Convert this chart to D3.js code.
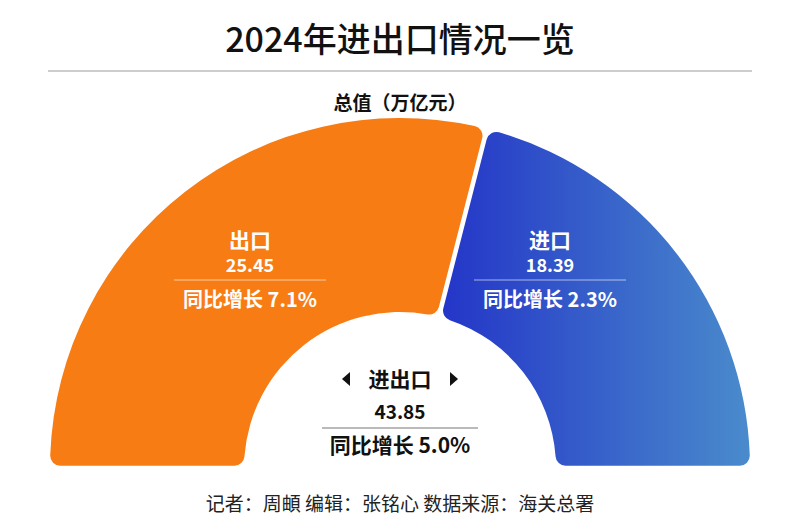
<!DOCTYPE html>
<html><head><meta charset="utf-8">
<script src="https://cdn.jsdelivr.net/npm/d3@7"></script>
<style>body{margin:0;background:#fff}svg{font-family:"Noto Sans CJK SC",sans-serif}</style>
</head><body><svg id="c" width="800" height="531"></svg>
<script>
const names = ["出口", "进口"];
const values = [25.45, 18.39];
const growth = ["7.1%", "2.3%"];
const total = 43.85, totalGrowth = "5.0%";

const svg = d3.select("#c");
const cx = 400, cy = 468, rOut = 350, rIn = 156;

svg.append("text").attr("x", 400).attr("y", 52).attr("text-anchor", "middle")
  .attr("font-size", 34).attr("font-weight", 500).attr("fill", "#111").text("2024年进出口情况一览");
svg.append("line").attr("x1", 48).attr("x2", 752).attr("y1", 71).attr("y2", 71).attr("stroke", "#999");
svg.append("text").attr("x", 400).attr("y", 110).attr("text-anchor", "middle")
  .attr("font-size", 19).attr("font-weight", 700).attr("fill", "#111").text("总值（万亿元）");

// gradient coords are in the translated group's space
const defs = svg.append("defs");
const g = defs.append("linearGradient").attr("id", "blue").attr("gradientUnits", "userSpaceOnUse")
  .attr("x1", 45).attr("x2", 350).attr("y1", 0).attr("y2", 0);
g.append("stop").attr("offset", 0).attr("stop-color", "#2436c8");
g.append("stop").attr("offset", 1).attr("stop-color", "#4a8bcc");

const pie = d3.pie().sort(null).startAngle(-Math.PI / 2).endAngle(Math.PI / 2).padAngle(0.012);
const arc = d3.arc().innerRadius(rIn).outerRadius(rOut).cornerRadius(10);
const fills = ["#f87c14", "url(#blue)"];
const arcs = pie(values);
const root = svg.append("g").attr("transform", `translate(${cx},${cy})`);
root.selectAll("path").data(arcs).join("path").attr("d", arc).attr("fill", (d, i) => fills[i]);

const labelX = [250, 550];
arcs.forEach((d, i) => {
  const x = labelX[i];
  const t = svg.append("g").attr("fill", "#fff").attr("font-weight", 700).attr("text-anchor", "middle");
  t.append("text").attr("x", x).attr("y", 248).attr("font-size", 21).text(names[i]);
  t.append("text").attr("x", x).attr("y", 272).attr("font-size", 18).text(values[i].toFixed(2));
  svg.append("line").attr("x1", x - 76).attr("x2", x + 76).attr("y1", 280).attr("y2", 280)
    .attr("stroke", "#fff").attr("stroke-opacity", 0.6);
  t.append("text").attr("x", x).attr("y", 307).attr("font-size", 20).text("同比增长 " + growth[i]);
});

const c = svg.append("g").attr("fill", "#111").attr("font-weight", 700).attr("text-anchor", "middle");
c.append("text").attr("x", 400).attr("y", 387).attr("font-size", 21).text("进出口");
c.append("path").attr("d", "M342,379 l8,-7 v14 z");
c.append("path").attr("d", "M458,379 l-8,-7 v14 z");
c.append("text").attr("x", 400).attr("y", 419).attr("font-size", 19).text(total.toFixed(2));
svg.append("line").attr("x1", 322).attr("x2", 478).attr("y1", 428).attr("y2", 428).attr("stroke", "#777");
c.append("text").attr("x", 400).attr("y", 453).attr("font-size", 21).text("同比增长 " + totalGrowth);

svg.append("text").attr("x", 400).attr("y", 511).attr("text-anchor", "middle")
  .attr("font-size", 19).attr("fill", "#222").text("记者：周頔  编辑：张铭心  数据来源：海关总署");
</script></body></html>
